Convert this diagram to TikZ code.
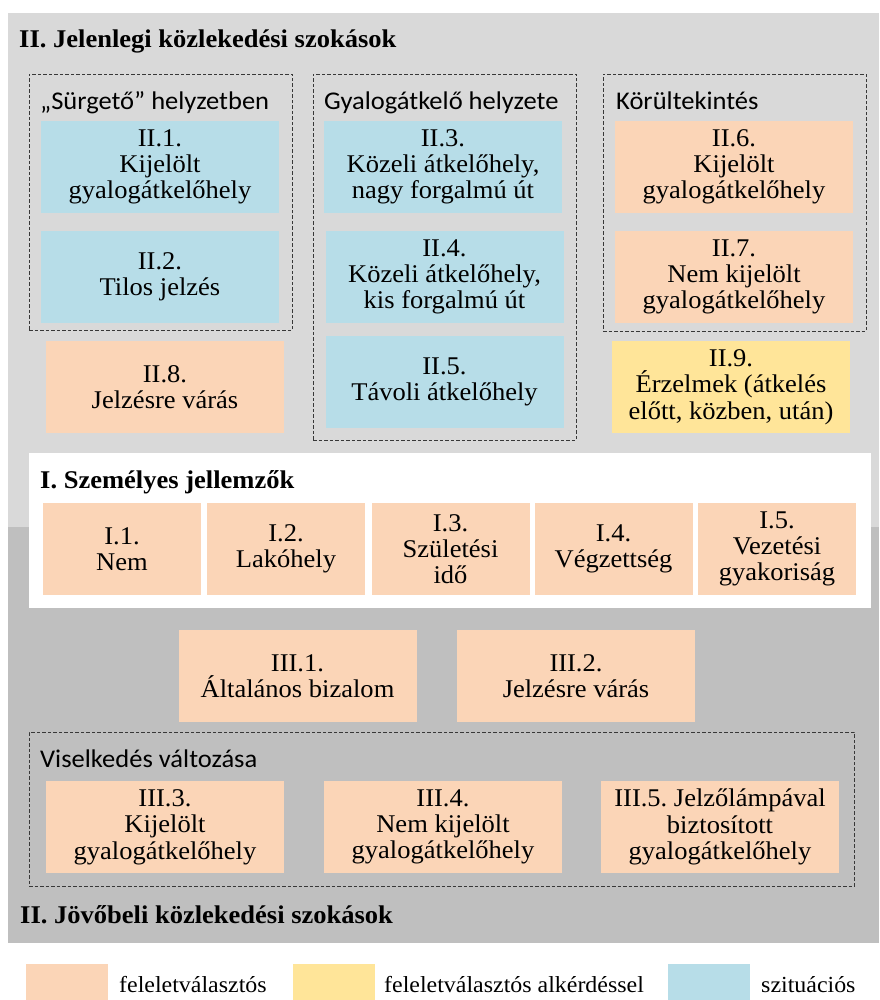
\documentclass[tikz,border=0pt]{standalone}
\usepackage{fontspec}
\setmainfont[FakeStretch=1.04]{Liberation Serif}
\newfontfamily\calibri[FakeStretch=1.04]{Carlito}
\frenchspacing
\definecolor{peach}{HTML}{FBD5B7}
\definecolor{aqua}{HTML}{B7DDE8}
\definecolor{sun}{HTML}{FFE599}
\definecolor{lgray}{HTML}{D9D9D9}
\definecolor{dgray}{HTML}{BFBFBF}
\definecolor{dashcol}{HTML}{383838}
\tikzset{
  box/.style 2 args={minimum width=#1, minimum height=#2, inner sep=0pt, align=center,
    font=\fontsize{25.5}{26.3}\selectfont},
  pbox/.style={box={238}{92}, fill=peach},
  abox/.style={box={238}{92}, fill=aqua},
  ybox/.style={box={238}{92}, fill=sun},
  ibox/.style={box={158}{92}, fill=peach},
  grp/.style 2 args={minimum width=#1, minimum height=#2, inner sep=0pt, draw=dashcol,
    line width=0.9pt, dash pattern=on 3.5pt off 2pt},
  glabel/.style={anchor=base west, inner sep=0pt, font=\calibri\fontsize{25.5}{28}\selectfont},
  ttl/.style={anchor=base west, inner sep=0pt, font=\bfseries\fontsize{25.5}{28}\selectfont},
  leg/.style={anchor=base west, inner sep=0pt, font=\fontsize{23}{26}\selectfont},
  lbox/.style={minimum width=82, minimum height=36, inner sep=0pt, fill=#1, anchor=north west},
}
\begin{document}
\begin{tikzpicture}[x=1pt,y=-1pt]
\useasboundingbox (0,0) rectangle (879,1000);
% backgrounds
\fill[lgray] (8,13) rectangle (879,527);
\fill[dgray] (8,527) rectangle (879,943);
\fill[white] (29,453) rectangle (871,608);
% titles
\node[ttl] (t2) at (19,48) {II. Jelenlegi közlekedési szokások};
\node[ttl] (t1) at (40,488) {I. Személyes jellemzők};
\node[ttl] (t3) at (20,923) {II. Jövőbeli közlekedési szokások};
% groups
\node[grp={263}{256}] (g1) at (160.5,202) {};
\node[grp={263}{366}] (g2) at (444.5,257) {};
\node[grp={263}{257}] (g3) at (734.5,202.5) {};
\node[grp={825}{154}] (g4) at (441.5,809) {};
\node[glabel] (gl1) at (40,110) {„Sürgető” helyzetben};
\node[glabel] (gl2) at (324,110) {Gyalogátkelő helyzete};
\node[glabel] (gl3) at (616,110) {Körültekintés};
\node[glabel] (gl4) at (40,767) {Viselkedés változása};
% section II boxes
\node[abox] (n21) at (160,167) {II.1.\\Kijelölt\\gyalogátkelőhely};
\node[abox] (n22) at (160,277) {II.2.\\Tilos jelzés};
\node[pbox] (n28) at (165,387) {II.8.\\Jelzésre várás};
\node[abox] (n23) at (443,167) {II.3.\\Közeli átkelőhely,\\nagy forgalmú út};
\node[abox] (n24) at (444.5,277) {II.4.\\Közeli átkelőhely,\\kis forgalmú út};
\node[abox] (n25) at (444.5,382) {II.5.\\Távoli átkelőhely};
\node[pbox] (n26) at (734,167) {II.6.\\Kijelölt\\gyalogátkelőhely};
\node[pbox] (n27) at (734,277) {II.7.\\Nem kijelölt\\gyalogátkelőhely};
\node[ybox] (n29) at (731,387) {II.9.\\Érzelmek (átkelés\\előtt, közben, után)};
% section I boxes
\node[ibox] (n11) at (122,549) {I.1.\\Nem};
\node[ibox] (n12) at (286,549) {I.2.\\Lakóhely};
\node[ibox] (n13) at (450.5,549) {I.3.\\Születési\\idő};
\node[ibox] (n14) at (613.5,549) {I.4.\\Végzettség};
\node[ibox] (n15) at (777,549) {I.5.\\Vezetési\\gyakoriság};
% section III boxes
\node[pbox] (n31) at (297.5,676) {III.1.\\Általános bizalom};
\node[pbox] (n32) at (576,676) {III.2.\\Jelzésre várás};
\node[pbox] (n33) at (165,827) {III.3.\\Kijelölt\\gyalogátkelőhely};
\node[pbox] (n34) at (443,827) {III.4.\\Nem kijelölt\\gyalogátkelőhely};
\node[pbox] (n35) at (720,827) {III.5. Jelzőlámpával\\biztosított\\gyalogátkelőhely};
% legend
\node[lbox=peach] (l1) at (26,964) {};
\node[lbox=sun] (l2) at (293,964) {};
\node[lbox=aqua] (l3) at (668,964) {};
\node[leg] (lt1) at (119,992) {feleletválasztós};
\node[leg] (lt2) at (384,992) {feleletválasztós alkérdéssel};
\node[leg] (lt3) at (761,992) {szituációs};
\end{tikzpicture}
\end{document}
